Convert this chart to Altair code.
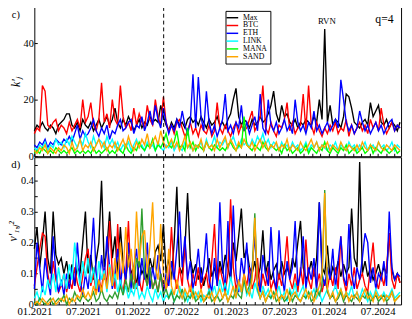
import altair as alt
import pandas as pd

START = "2021-01-01"
N_POINTS = 137
STEP = "10D"
SERIES = ["Max", "BTC", "ETH", "LINK", "MANA", "SAND"]
COLORS_TOP = ["#000000", "#ff0000", "#0000ff", "#00ffff", "#00ff00", "#ffa500"]
COLORS_BOT = ["#000000", "#ff0000", "#0000ff", "#00ffff", "#2f9e2f", "#ffa500"]
EVENT_DATE = ["2022-04-27"]

# ---- panel c) k'_j ----
max_top = [9, 11, 10, 12, 10, 9, 11, 10, 8, 11,
           12, 13, 15, 15, 11, 10, 12, 9, 13, 11,
           10, 12, 9, 11, 13, 10, 12, 14, 11, 13,
           17, 12, 10, 13, 11, 14, 12, 9, 11, 13,
           10, 12, 11, 14, 12, 13, 12, 18, 14, 11,
           9, 12, 10, 13, 11, 12, 10, 13, 14, 12,
           13, 11, 14, 12, 10, 13, 11, 12, 14, 11,
           12, 10, 13, 15, 20, 24, 14, 11, 13, 12,
           10, 13, 11, 12, 14, 12, 13, 15, 18, 23,
           15, 12, 18, 14, 15, 12, 11, 13, 10, 12,
           11, 13, 12, 11, 14, 12, 20, 13, 45, 12,
           18, 11, 13, 12, 10, 14, 22, 21, 17, 12,
           11, 10, 12, 13, 11, 19, 14, 16, 18, 12,
           11, 13, 10, 12, 11, 9, 12]
btc_top = [8, 10, 9, 25, 23, 11, 10, 12, 13, 9,
           11, 10, 8, 12, 9, 11, 13, 10, 20, 12,
           14, 19, 11, 9, 13, 26, 12, 15, 10, 20,
           13, 11, 25, 14, 10, 12, 9, 17, 11, 15,
           12, 10, 18, 13, 11, 20, 14, 11, 21, 12,
           9, 11, 8, 12, 13, 10, 7, 9, 12, 8,
           10, 7, 11, 9, 8, 11, 7, 9, 19, 10,
           8, 11, 9, 7, 10, 12, 8, 11, 9, 10,
           13, 16, 9, 11, 14, 25, 10, 8, 12, 9,
           7, 11, 10, 13, 19, 9, 12, 8, 10, 11,
           22, 9, 25, 11, 8, 12, 9, 7, 10, 8,
           11, 9, 12, 8, 10, 9, 13, 7, 11, 8,
           10, 12, 9, 11, 8, 13, 10, 12, 9, 17,
           11, 8, 10, 12, 9, 11, 10]
eth_top = [4, 3, 5, 4, 6, 3, 5, 4, 6, 5,
           4, 6, 5, 7, 5, 8, 11, 6, 9, 7,
           8, 10, 13, 9, 7, 10, 8, 11, 6, 9,
           8, 11, 13, 9, 10, 12, 13, 8, 11, 10,
           14, 9, 12, 16, 11, 18, 13, 10, 17, 12,
           8, 11, 9, 13, 10, 16, 11, 8, 12, 29,
           10, 28, 14, 9, 23, 12, 8, 11, 7, 10,
           13, 22, 9, 11, 8, 12, 10, 18, 9, 12,
           8, 11, 14, 9, 22, 10, 8, 20, 11, 9,
           12, 8, 10, 13, 9, 11, 8, 20, 12, 9,
           11, 8, 12, 10, 16, 9, 11, 8, 10, 12,
           9, 11, 13, 10, 27, 20, 12, 9, 11, 8,
           10, 16, 12, 9, 11, 8, 10, 12, 9, 11,
           8, 10, 12, 13, 9, 11, 10]
link_top = [3, 2, 4, 3, 5, 2, 4, 3, 6, 4,
            5, 3, 6, 4, 7, 5, 3, 6, 4, 8,
            5, 3, 7, 4, 6, 5, 3, 7, 4, 6,
            3, 5, 2, 4, 3, 5, 2, 4, 6, 3,
            4, 2, 5, 3, 4, 2, 5, 3, 2, 4,
            3, 5, 2, 4, 3, 2, 5, 3, 4, 2,
            4, 3, 5, 2, 6, 3, 4, 7, 3, 5,
            4, 6, 3, 5, 7, 4, 3, 6, 4, 5,
            3, 6, 4, 7, 5, 8, 4, 6, 3, 5,
            4, 2, 5, 3, 4, 2, 5, 3, 4, 2,
            3, 5, 2, 4, 3, 5, 2, 4, 3, 2,
            4, 3, 5, 2, 4, 3, 2, 5, 3, 4,
            2, 4, 3, 5, 2, 3, 4, 2, 5, 3,
            4, 2, 3, 5, 2, 4, 3]
mana_top = [1, 2, 1, 3, 2, 1, 2, 1, 3, 2,
            1, 2, 1, 2, 3, 1, 2, 1, 2, 1,
            2, 1, 3, 1, 2, 1, 2, 3, 1, 2,
            1, 3, 2, 1, 4, 2, 1, 3, 2, 5,
            3, 2, 4, 3, 6, 2, 4, 3, 5, 8,
            4, 3, 5, 9, 3, 4, 2, 10, 3, 5,
            2, 4, 3, 2, 5, 3, 2, 4, 3, 2,
            3, 2, 4, 5, 3, 2, 4, 3, 14, 4,
            3, 2, 4, 3, 2, 5, 3, 2, 4, 3,
            2, 3, 1, 4, 2, 3, 1, 2, 3, 1,
            2, 4, 1, 3, 2, 1, 3, 2, 5, 2,
            1, 3, 2, 1, 3, 2, 4, 1, 2, 3,
            1, 2, 3, 1, 2, 4, 1, 3, 2, 1,
            3, 2, 1, 2, 3, 1, 2]
sand_top = [2, 1, 3, 2, 4, 1, 3, 2, 1, 3,
            2, 4, 3, 1, 5, 2, 3, 6, 2, 4,
            3, 5, 2, 4, 6, 3, 5, 2, 4, 3,
            5, 2, 4, 6, 3, 7, 4, 2, 5, 3,
            6, 4, 8, 3, 5, 7, 4, 9, 5, 3,
            4, 6, 3, 5, 2, 4, 7, 3, 5, 2,
            4, 3, 6, 2, 5, 3, 4, 2, 6, 3,
            5, 7, 3, 6, 4, 2, 5, 3, 6, 4,
            3, 5, 2, 4, 6, 3, 5, 2, 4, 3,
            5, 2, 4, 3, 6, 2, 4, 3, 2, 5,
            3, 2, 4, 6, 3, 5, 2, 4, 3, 5,
            2, 4, 3, 2, 5, 3, 2, 4, 3, 2,
            4, 2, 5, 3, 2, 4, 3, 2, 5, 3,
            2, 4, 3, 2, 4, 3, 2]

# ---- panel d) v'_{1,j}^2 ----
max_bot = [0.18, 0.25, 0.12, 0.2, 0.30, 0.15, 0.1, 0.30, 0.16, 0.13,
           0.15, 0.1, 0.14, 0.08, 0.13, 0.06, 0.12, 0.1, 0.2, 0.30,
           0.1, 0.16, 0.08, 0.14, 0.2, 0.40, 0.12, 0.18, 0.30, 0.15,
           0.22, 0.1, 0.25, 0.13, 0.08, 0.16, 0.1, 0.12, 0.06, 0.14,
           0.1, 0.12, 0.08, 0.15, 0.11, 0.17, 0.19, 0.14, 0.26, 0.1,
           0.15, 0.08, 0.2, 0.38, 0.12, 0.1, 0.18, 0.36, 0.15, 0.1,
           0.13, 0.08, 0.12, 0.06, 0.1, 0.15, 0.09, 0.12, 0.07, 0.14,
           0.1, 0.16, 0.12, 0.08, 0.2, 0.14, 0.22, 0.31, 0.15, 0.18,
           0.12, 0.1, 0.14, 0.08, 0.12, 0.24, 0.1, 0.14, 0.08, 0.11,
           0.13, 0.08, 0.14, 0.1, 0.12, 0.09, 0.15, 0.12, 0.2, 0.27,
           0.12, 0.08, 0.1, 0.14, 0.09, 0.15, 0.33, 0.12, 0.1, 0.19,
           0.08, 0.12, 0.1, 0.14, 0.09, 0.13, 0.1, 0.12, 0.31, 0.15,
           0.12, 0.46, 0.1, 0.14, 0.09, 0.12, 0.08, 0.1, 0.13, 0.09,
           0.12, 0.1, 0.23, 0.11, 0.08, 0.1, 0.07]
btc_bot = [0.06, 0.12, 0.18, 0.23, 0.22, 0.1, 0.05, 0.14, 0.08, 0.04,
           0.06, 0.1, 0.04, 0.08, 0.05, 0.12, 0.07, 0.04, 0.09, 0.15,
           0.18, 0.06, 0.1, 0.04, 0.08, 0.05, 0.12, 0.06, 0.27, 0.1,
           0.05, 0.26, 0.08, 0.04, 0.1, 0.27, 0.06, 0.12, 0.05, 0.08,
           0.04, 0.1, 0.06, 0.12, 0.05, 0.08, 0.04, 0.1, 0.06, 0.05,
           0.08, 0.25, 0.1, 0.05, 0.12, 0.06, 0.2, 0.08, 0.04, 0.1,
           0.06, 0.12, 0.05, 0.08, 0.1, 0.04, 0.14, 0.26, 0.06, 0.12,
           0.08, 0.04, 0.1, 0.34, 0.12, 0.05, 0.08, 0.04, 0.1, 0.06,
           0.12, 0.05, 0.08, 0.15, 0.04, 0.1, 0.06, 0.12, 0.05, 0.08,
           0.04, 0.1, 0.06, 0.12, 0.22, 0.08, 0.05, 0.1, 0.04, 0.12,
           0.06, 0.21, 0.08, 0.05, 0.12, 0.06, 0.1, 0.04, 0.08, 0.05,
           0.1, 0.06, 0.12, 0.05, 0.22, 0.08, 0.04, 0.1, 0.06, 0.12,
           0.05, 0.08, 0.1, 0.06, 0.04, 0.12, 0.2, 0.08, 0.05, 0.1,
           0.06, 0.12, 0.23, 0.08, 0.05, 0.1, 0.07]
eth_bot = [0.05, 0.2, 0.12, 0.04, 0.15, 0.08, 0.03, 0.22, 0.1, 0.04,
           0.08, 0.03, 0.1, 0.05, 0.12, 0.06, 0.2, 0.08, 0.03, 0.1,
           0.05, 0.14, 0.28, 0.1, 0.04, 0.16, 0.08, 0.22, 0.12, 0.05,
           0.1, 0.18, 0.06, 0.14, 0.08, 0.2, 0.04, 0.12, 0.18, 0.06,
           0.15, 0.08, 0.2, 0.05, 0.12, 0.07, 0.16, 0.09, 0.04, 0.1,
           0.06, 0.14, 0.08, 0.18, 0.30, 0.12, 0.22, 0.08, 0.14, 0.05,
           0.1, 0.18, 0.07, 0.12, 0.23, 0.08, 0.04, 0.15, 0.06, 0.33,
           0.12, 0.05, 0.27, 0.08, 0.32, 0.1, 0.04, 0.15, 0.09, 0.2,
           0.06, 0.12, 0.22, 0.08, 0.04, 0.16, 0.1, 0.06, 0.25, 0.09,
           0.05, 0.24, 0.1, 0.04, 0.14, 0.08, 0.12, 0.27, 0.06, 0.1,
           0.22, 0.05, 0.12, 0.08, 0.15, 0.04, 0.33, 0.1, 0.06, 0.12,
           0.08, 0.18, 0.05, 0.14, 0.22, 0.09, 0.06, 0.26, 0.1, 0.05,
           0.12, 0.08, 0.15, 0.23, 0.2, 0.07, 0.12, 0.05, 0.1, 0.08,
           0.14, 0.06, 0.3, 0.12, 0.08, 0.1, 0.09]
link_bot = [0.02, 0.04, 0.01, 0.06, 0.03, 0.08, 0.05, 0.1, 0.04, 0.12,
            0.06, 0.1, 0.05, 0.13, 0.08, 0.2, 0.12, 0.06, 0.14, 0.09,
            0.15, 0.07, 0.12, 0.05, 0.14, 0.08, 0.11, 0.04, 0.13, 0.06,
            0.1, 0.04, 0.08, 0.03, 0.06, 0.02, 0.05, 0.03, 0.07, 0.02,
            0.04, 0.02, 0.06, 0.03, 0.01, 0.05, 0.02, 0.04, 0.01, 0.03,
            0.02, 0.05, 0.01, 0.03, 0.06, 0.02, 0.04, 0.01, 0.03, 0.05,
            0.02, 0.04, 0.01, 0.03, 0.02, 0.05, 0.03, 0.06, 0.02, 0.08,
            0.04, 0.07, 0.03, 0.09, 0.05, 0.02, 0.06, 0.04, 0.08, 0.03,
            0.05, 0.02, 0.07, 0.04, 0.02, 0.06, 0.03, 0.05, 0.02, 0.04,
            0.03, 0.06, 0.02, 0.04, 0.01, 0.05, 0.03, 0.07, 0.02, 0.04,
            0.06, 0.02, 0.04, 0.03, 0.05, 0.02, 0.04, 0.01, 0.03, 0.05,
            0.02, 0.04, 0.06, 0.03, 0.05, 0.02, 0.04, 0.03, 0.06, 0.02,
            0.04, 0.02, 0.05, 0.03, 0.01, 0.04, 0.02, 0.05, 0.03, 0.02,
            0.04, 0.02, 0.03, 0.05, 0.02, 0.03, 0.04]
mana_bot = [0.01, 0.0, 0.02, 0.01, 0.0, 0.01, 0.02, 0.0, 0.01, 0.02,
            0.01, 0.03, 0.0, 0.02, 0.01, 0.04, 0.02, 0.01, 0.03, 0.02,
            0.01, 0.02, 0.04, 0.01, 0.02, 0.05, 0.02, 0.01, 0.03, 0.02,
            0.04, 0.02, 0.06, 0.03, 0.08, 0.04, 0.1, 0.05, 0.15, 0.12,
            0.31, 0.1, 0.06, 0.12, 0.05, 0.08, 0.04, 0.1, 0.03, 0.05,
            0.02, 0.04, 0.01, 0.03, 0.02, 0.05, 0.01, 0.03, 0.02, 0.04,
            0.01, 0.02, 0.03, 0.01, 0.02, 0.04, 0.01, 0.02, 0.03, 0.01,
            0.02, 0.04, 0.01, 0.03, 0.02, 0.05, 0.03, 0.02, 0.08, 0.04,
            0.06, 0.1, 0.295, 0.05, 0.02, 0.04, 0.01, 0.03, 0.02, 0.04,
            0.01, 0.02, 0.03, 0.01, 0.02, 0.04, 0.01, 0.03, 0.02, 0.01,
            0.03, 0.02, 0.04, 0.01, 0.02, 0.05, 0.03, 0.06, 0.37, 0.04,
            0.02, 0.03, 0.01, 0.02, 0.04, 0.01, 0.03, 0.02, 0.01, 0.03,
            0.02, 0.01, 0.03, 0.02, 0.04, 0.01, 0.02, 0.03, 0.01, 0.02,
            0.03, 0.01, 0.02, 0.04, 0.01, 0.02, 0.03]
sand_bot = [0.0, 0.01, 0.0, 0.02, 0.01, 0.0, 0.01, 0.02, 0.0, 0.01,
            0.02, 0.01, 0.03, 0.0, 0.02, 0.01, 0.03, 0.02, 0.05, 0.02,
            0.04, 0.02, 0.06, 0.03, 0.08, 0.04, 0.1, 0.05, 0.12, 0.06,
            0.15, 0.08, 0.2, 0.1, 0.25, 0.12, 0.18, 0.08, 0.3, 0.14,
            0.22, 0.24, 0.1, 0.19, 0.33, 0.12, 0.08, 0.26, 0.1, 0.05,
            0.18, 0.06, 0.03, 0.08, 0.04, 0.02, 0.05, 0.03, 0.06, 0.02,
            0.04, 0.02, 0.05, 0.01, 0.03, 0.02, 0.04, 0.01, 0.03, 0.05,
            0.02, 0.04, 0.01, 0.03, 0.06, 0.02, 0.08, 0.04, 0.1, 0.05,
            0.03, 0.08, 0.28, 0.06, 0.02, 0.04, 0.01, 0.03, 0.05, 0.02,
            0.04, 0.01, 0.03, 0.02, 0.05, 0.01, 0.03, 0.04, 0.02, 0.01,
            0.03, 0.05, 0.02, 0.04, 0.01, 0.03, 0.06, 0.1, 0.36, 0.05,
            0.02, 0.04, 0.01, 0.03, 0.05, 0.02, 0.04, 0.01, 0.03, 0.02,
            0.04, 0.01, 0.03, 0.05, 0.02, 0.03, 0.01, 0.04, 0.02, 0.03,
            0.01, 0.03, 0.02, 0.04, 0.01, 0.02, 0.03]

TOP_VALUES = [max_top, btc_top, eth_top, link_top, mana_top, sand_top]
BOT_VALUES = [max_bot, btc_bot, eth_bot, link_bot, mana_bot, sand_bot]
TOP_TICKS = [0, 5, 10, 15, 20, 25, 30, 35, 40, 45, 50]
BOT_TICKS = [0, 0.05, 0.1, 0.15, 0.2, 0.25, 0.3, 0.35, 0.4, 0.45]
RVN_LABEL = {"date": ["2023-12-25"], "value": [47.8], "t": ["RVN"]}

dates = pd.date_range(START, periods=N_POINTS, freq=STEP)
FONT = "Liberation Serif"
W = 376
XDOM = [alt.DateTime(year=2021, month=1, date=1), alt.DateTime(year=2024, month=9, date=26)]


def x_enc(labels):
    return alt.X(
        "date:T",
        scale=alt.Scale(domain=XDOM),
        axis=alt.Axis(
            title=None, domain=False, grid=False, labels=labels,
            tickCount={"interval": "month", "step": 1},
            tickSize=3, offset=-3, tickColor="black",
            labelExpr="month(datum.value) % 6 == 0 ? timeFormat(datum.value, '%m.%Y') : ''",
            labelOverlap=False, labelFlush=False, labelBound=False,
            labelFont=FONT, labelFontSize=11, labelColor="black", labelPadding=1,
        ),
    )


def panel(values, colors, ydom, yticks, ylabel_expr, ytitle, height, legend, extra):
    layers = []
    for name, vals in zip(SERIES, values):
        df = pd.DataFrame({"date": dates, "value": vals, "series": name})
        layers.append(
            alt.Chart(df).mark_line(strokeWidth=1.4).encode(
                x=x_enc(extra),
                y=alt.Y(
                    "value:Q",
                    scale=alt.Scale(domain=ydom, nice=False, zero=True),
                    axis=alt.Axis(
                        title=ytitle, values=yticks, labelExpr=ylabel_expr,
                        domain=False, grid=False, tickSize=3, offset=-3,
                        tickColor="black", labelFont=FONT, labelFontSize=10.5,
                        labelColor="black", labelPadding=1, labelOverlap=False,
                        titleFont=FONT, titleFontSize=12, titleFontStyle="italic",
                        titleFontWeight="normal", titleColor="black", titlePadding=1,
                    ),
                ),
                color=alt.Color(
                    "series:N",
                    scale=alt.Scale(domain=SERIES, range=colors),
                    legend=legend,
                ),
            )
        )
    rule = alt.Chart(pd.DataFrame({"date": EVENT_DATE})).mark_rule(
        color="black", strokeDash=[4, 3], strokeWidth=1
    ).encode(x="date:T")
    layers.append(rule)
    return alt.layer(*layers).properties(width=W, height=height)


legend_top = alt.Legend(
    title=None, orient="none", legendX=196, legendY=4,
    symbolType="M-2,0H2", symbolSize=36, symbolStrokeWidth=1.5,
    labelFont=FONT, labelFontSize=8, labelColor="black", labelOffset=7,
    rowPadding=-8.5, padding=3, strokeColor="black", fillColor="white",
    cornerRadius=0,
)

top = panel(TOP_VALUES, COLORS_TOP, [0, 52.8], TOP_TICKS,
            "datum.value % 10 == 0 ? datum.label : ''", "k′ⱼ", 153, legend_top, False)

c_txt = alt.Chart(pd.DataFrame({"t": ["c)"]})).mark_text(
    font=FONT, fontSize=10.5, align="center", baseline="middle", color="black"
).encode(text="t:N", x=alt.value(-19), y=alt.value(8.5))
q_txt = alt.Chart(pd.DataFrame({"t": ["q=4"]})).mark_text(
    font=FONT, fontSize=12, align="center", baseline="middle", color="black"
).encode(text="t:N", x=alt.value(359), y=alt.value(12))
rvn_txt = alt.Chart(pd.DataFrame(RVN_LABEL)).mark_text(
    font=FONT, fontSize=9, align="center", baseline="middle", color="black"
).encode(text="t:N", x="date:T", y="value:Q")

top = alt.layer(top, c_txt, q_txt, rvn_txt).properties(width=W, height=153)

bot = panel(BOT_VALUES, COLORS_BOT, [0, 0.476], BOT_TICKS,
            "abs(datum.value * 10 - round(datum.value * 10)) < 0.001 ? (datum.value == 0 ? '0' : format(datum.value, '.1f')) : ''",
            "v′₁,ⱼ²", 151, None, True)
d_txt = alt.Chart(pd.DataFrame({"t": ["d)"]})).mark_text(
    font=FONT, fontSize=11, align="center", baseline="middle", color="black"
).encode(text="t:N", x=alt.value(-19), y=alt.value(8))
bot = alt.layer(bot, d_txt).properties(width=W, height=151)

chart = alt.vconcat(top, bot, spacing=1, bounds="flush").resolve_scale(
    color="independent"
).configure(
    font=FONT,
    padding={"left": -2, "top": -6, "right": 0, "bottom": 0},
).configure_view(stroke="black", strokeWidth=1)

chart.save("out.html", embed_options={"renderer": "svg", "actions": False})
